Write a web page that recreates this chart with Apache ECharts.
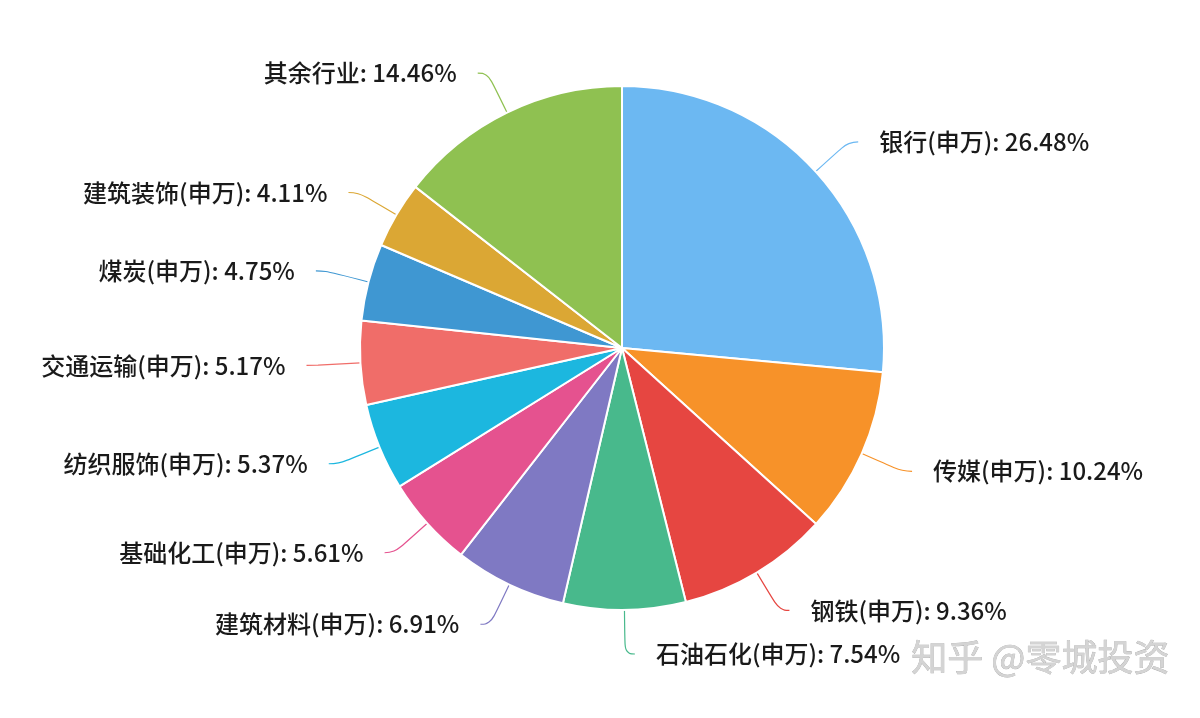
<!DOCTYPE html>
<html><head><meta charset="utf-8">
<script src="https://cdn.jsdelivr.net/npm/echarts@6/dist/echarts.min.js"></script>
<style>html,body{margin:0;padding:0;background:#fff}#c{width:1200px;height:718px}</style>
</head><body><div id="c"></div>
<script>
const categories = ['银行(申万)','传媒(申万)','钢铁(申万)','石油石化(申万)','建筑材料(申万)','基础化工(申万)','纺织服饰(申万)','交通运输(申万)','煤炭(申万)','建筑装饰(申万)','其余行业'];
const values = [26.48,10.24,9.36,7.54,6.91,5.61,5.37,5.17,4.75,4.11,14.46];
const colors = ['#6cb8f2','#f79229','#e64641','#48b98c','#7f79c3','#e5528f','#1cb7df','#f06d69','#3f97d2','#dba734','#8fc151'];

const chart = echarts.init(document.getElementById('c'));
chart.setOption({
  backgroundColor:'#fff',
  animation:false,
  color: colors,
  graphic:[{type:'text',left:911,top:639,style:{text:'知乎 @零城投资',font:'36px "Noto Sans CJK SC"',fill:'#d4d4d4',stroke:'#a8a8a8',lineWidth:0.6}}],
  series:[{
    type:'pie',
    center:[622,348],
    radius:[0,262],
    startAngle:90,
    clockwise:true,
    itemStyle:{borderColor:'#fff',borderWidth:2},
    label:{
      formatter:p=>p.name+': '+p.value.toFixed(2)+'%',
      fontSize:24,
      fontFamily:'"Noto Sans CJK SC"',
      fontWeight:500,
      color:'#1a1a1a',
      distanceToLabelLine:21
    },
    labelLine:{length:44,length2:10,smooth:0.5,lineStyle:{width:1.2}},
    data: categories.map((c,i)=>({name:c,value:values[i]}))
  }]
});
</script></body></html>
